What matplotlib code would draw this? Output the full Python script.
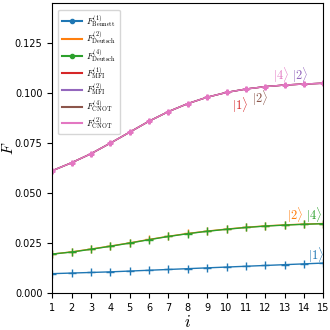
import numpy as np
import matplotlib.pyplot as plt
from matplotlib.lines import Line2D

plt.rcParams['mathtext.fontset'] = 'cm'

i = np.arange(1, 16)

F_bennett1 = [0.0097, 0.0100, 0.0103, 0.0106, 0.0110, 0.0114, 0.0118, 0.0122,
              0.0126, 0.0130, 0.0134, 0.0138, 0.0142, 0.0146, 0.0150]
F_deutsch2 = [0.0195, 0.0206, 0.0220, 0.0235, 0.0251, 0.0268, 0.0284, 0.0298,
              0.0310, 0.0320, 0.0329, 0.0336, 0.0341, 0.0345, 0.0348]
F_deutsch4 = [0.0195, 0.0205, 0.0219, 0.0234, 0.0250, 0.0267, 0.0283, 0.0297,
              0.0309, 0.0319, 0.0328, 0.0335, 0.0340, 0.0344, 0.0347]
F_mfi = [0.0612, 0.0652, 0.0697, 0.0750, 0.0805, 0.0860, 0.0908, 0.0948,
         0.0980, 0.1004, 0.1021, 0.1033, 0.1041, 0.1046, 0.1050]

labels = [r'$F^{(1)}_{\rm Bennett}$', r'$F^{(2)}_{\rm Deutsch}$', r'$F^{(4)}_{\rm Deutsch}$',
          r'$F^{(1)}_{\rm MFI}$', r'$F^{(2)}_{\rm MFI}$', r'$F^{(4)}_{\rm CNOT}$',
          r'$F^{(2)}_{\rm CNOT}$']
colors = ['C0', 'C1', 'C2', 'C3', 'C4', 'C5', 'C6']

fig, ax = plt.subplots(figsize=(3.3, 3.3), dpi=100)

ax.plot(i, F_bennett1, color='C0', marker='+', ms=6, lw=1)
ax.plot(i, F_deutsch2, color='C1', marker='+', ms=6, lw=1)
ax.plot(i, F_deutsch4, color='C2', marker='+', ms=6, lw=1)
ax.plot(i, F_mfi, color='C3', lw=1)
ax.plot(i, F_mfi, color='C4', lw=1)
ax.plot(i, F_mfi, color='C5', lw=1)
ax.plot(i, F_mfi, color='C6', marker='P', ms=3.5, lw=1)

ax.text(14.2, 0.0165, r'$|1\rangle$', color='C0', fontsize=9)
ax.text(13.1, 0.0365, r'$|2\rangle$', color='C1', fontsize=9)
ax.text(14.1, 0.0365, r'$|4\rangle$', color='C2', fontsize=9)
ax.text(10.3, 0.0915, r'$|1\rangle$', color='C3', fontsize=9)
ax.text(11.3, 0.0950, r'$|2\rangle$', color='C5', fontsize=9)
ax.text(12.4, 0.1065, r'$|4\rangle$', color='C6', fontsize=9)
ax.text(13.4, 0.1065, r'$|2\rangle$', color='C4', fontsize=9)

handles = []
for k, c in enumerate(colors):
    m = '.' if k in (0, 2) else None
    handles.append(Line2D([], [], color=c, marker=m, lw=1.5))
ax.legend(handles, labels, loc='upper left', fontsize=6.5, handlelength=2.2,
          borderaxespad=0.7, labelspacing=0.1, handletextpad=0.5)

ax.set_xlim(1, 15)
ax.set_ylim(0, 0.145)
ax.set_xticks(i)
ax.set_yticks([0, 0.025, 0.05, 0.075, 0.1, 0.125])
ax.yaxis.set_major_formatter(plt.FormatStrFormatter('%.3f'))
ax.tick_params(labelsize=7)
ax.set_xlabel(r'$i$', fontsize=12)
ax.set_ylabel(r'$\bar{F}$', fontsize=11)
ax.xaxis.set_label_coords(0.5, -0.068)
ax.yaxis.set_label_coords(-0.128, 0.5)

plt.subplots_adjust(left=0.158, right=0.98, bottom=0.112, top=0.99)
plt.savefig('out.png')
